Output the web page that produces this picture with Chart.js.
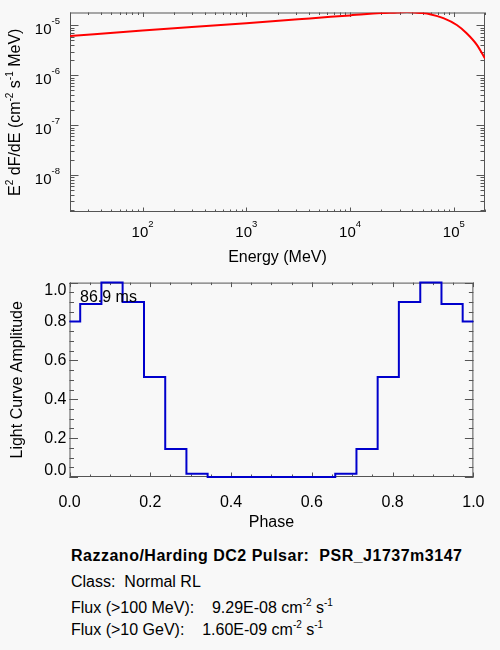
<!DOCTYPE html>
<html><head><meta charset="utf-8">
<script src="https://cdn.jsdelivr.net/npm/chart.js@4/dist/chart.umd.min.js"></script>
<style>
html,body{margin:0;padding:0;background:#f8f8f8;width:500px;height:650px;overflow:hidden;font-family:"Liberation Sans",Arial,sans-serif;}
#c1{position:absolute;left:0;top:0;}
#c2{position:absolute;left:0;top:270px;}
.info{position:absolute;left:71px;font-size:16px;line-height:20px;white-space:pre;color:#000;}
.info sup{font-size:10px;vertical-align:baseline;position:relative;top:-7px;}
</style></head><body>
<canvas id="c1" width="500" height="270"></canvas>
<canvas id="c2" width="500" height="270"></canvas>
<div class="info" style="top:546px;font-weight:bold;letter-spacing:0.5px">Razzano/Harding DC2 Pulsar:  PSR_J1737m3147</div>
<div class="info" style="top:572px">Class:  Normal RL</div>
<div class="info" style="top:598px">Flux (&gt;100 MeV):    9.29E-08 cm<sup>-2</sup> s<sup>-1</sup></div>
<div class="info" style="top:619.5px">Flux (&gt;10 GeV):    1.60E-09 cm<sup>-2</sup> s<sup>-1</sup></div>
<script>
// ---- Spectrum (top panel) ----
const energyMeV = [20, 100, 1000, 3162, 6500, 10000, 13600, 20000, 28600, 35500, 42300, 50000, 59000, 79400, 107000, 133000, 167000, 200000];
const e2dfde    = [6.15e-6, 7.89e-6, 1.11e-5, 1.33e-5, 1.49e-5, 1.59e-5, 1.68e-5, 1.77e-5, 1.82e-5, 1.87e-5, 1.82e-5, 1.77e-5, 1.68e-5, 1.40e-5, 1.02e-5, 6.98e-6, 4.08e-6, 2.17e-6];
const energyTicks = [100, 1000, 10000, 100000];
const energyTickLabels = ['10^2', '10^3', '10^4', '10^5'];
const fluxTicks = [1e-8, 1e-7, 1e-6, 1e-5];
const fluxTickLabels = ['10^-8', '10^-7', '10^-6', '10^-5'];
const energyRange = [20, 200000];
const fluxRange = [1.82e-9, 1.82e-5];
const spectrumXTitle = 'Energy (MeV)';
const spectrumYTitle = 'E^2 dF/dE (cm^-2 s^-1 MeV)';

// ---- Light curve (bottom panel) ----
const phase = [0.000, 0.053, 0.105, 0.158, 0.211, 0.263, 0.316, 0.368, 0.421, 0.474, 0.526, 0.579, 0.632, 0.684, 0.737, 0.789, 0.842, 0.895, 0.947, 1.000];
const amplitude = [0.80, 0.89, 1.00, 0.90, 0.515, 0.144, 0.017, 0, 0, 0, 0, 0, 0, 0.017, 0.144, 0.515, 0.90, 1.00, 0.89, 0.80];
const phaseTicks = [0, 0.2, 0.4, 0.6, 0.8, 1.0];
const phaseTickLabels = ['0.0', '0.2', '0.4', '0.6', '0.8', '1.0'];
const ampTicks = [0, 0.2, 0.4, 0.6, 0.8, 1.0];
const ampTickLabels = ['0.0', '0.2', '0.4', '0.6', '0.8', '1.0'];
const periodLabel = '86.9 ms';

const FONT = "'Liberation Sans', Arial, sans-serif";
Chart.defaults.font.family = FONT;
Chart.defaults.font.size = 16;
Chart.defaults.color = '#000';
const AXIS = '#555';

function logMinors(min, max) {
  const out = [];
  for (let d = Math.floor(Math.log10(min)); d <= Math.ceil(Math.log10(max)); d++) {
    for (let k = 2; k <= 9; k++) { const v = k * Math.pow(10, d); if (v >= min && v <= max) out.push(v); }
  }
  return out;
}
function linMinors(min, max, step) {
  const out = []; for (let v = min; v <= max + 1e-9; v += step) out.push(v); return out;
}

// text with ^superscripts
function parseRich(s) {
  const out = []; let last = 0; const re = /\^([-\d]+)/g; let m;
  while ((m = re.exec(s)) !== null) {
    if (m.index > last) out.push({t: s.slice(last, m.index)});
    out.push({t: m[1], sup: true}); last = m.index + m[0].length;
  }
  if (last < s.length) out.push({t: s.slice(last)});
  return out;
}
function drawRich(ctx, s, x, y, align, base, sup, raise) {
  const segs = parseRich(s);
  let w = 0;
  segs.forEach(g => { ctx.font = (g.sup ? sup : base) + 'px ' + FONT; g.w = ctx.measureText(g.t).width; w += g.w; });
  let cx = align === 'center' ? x - w / 2 : align === 'right' ? x - w : x;
  ctx.textAlign = 'left'; ctx.textBaseline = 'alphabetic';
  segs.forEach(g => { ctx.font = (g.sup ? sup : base) + 'px ' + FONT; ctx.fillText(g.t, cx, g.sup ? y - raise : y); cx += g.w; });
}

function boxPlugin(cfg) {
  return {
    id: 'box',
    beforeDatasetsDraw(chart) {
      const {ctx, chartArea: a} = chart;
      const xs = chart.scales.x, ys = chart.scales.y;
      ctx.save();
      ctx.strokeStyle = AXIS; ctx.lineWidth = 1;
      ctx.strokeRect(a.left + 0.5, a.top + 0.5, a.right - a.left - 1, a.bottom - a.top - 1);
      ctx.beginPath();
      const xt = (vals, len) => vals.forEach(v => { const p = Math.round(xs.getPixelForValue(v)) + 0.5;
        ctx.moveTo(p, a.bottom); ctx.lineTo(p, a.bottom - len); ctx.moveTo(p, a.top); ctx.lineTo(p, a.top + len); });
      const yt = (vals, len) => vals.forEach(v => { const p = Math.round(ys.getPixelForValue(v)) + 0.5;
        ctx.moveTo(a.left, p); ctx.lineTo(a.left + len, p); ctx.moveTo(a.right, p); ctx.lineTo(a.right - len, p); });
      xt(cfg.xMajor, 4.5); xt(cfg.xMinor, 2.5);
      yt(cfg.yMajor, 8.5); yt(cfg.yMinor, 4.5);
      ctx.stroke();
      ctx.restore();
      if (cfg.labels) { ctx.save(); ctx.fillStyle = '#000'; cfg.labels(chart); ctx.restore(); }
    },
    afterDatasetsDraw(chart) { if (cfg.after) { chart.ctx.save(); cfg.after(chart); chart.ctx.restore(); } }
  };
}

// Top chart
new Chart(document.getElementById('c1'), {
  type: 'line',
  data: { datasets: [{
    data: energyMeV.map((e, i) => ({x: e, y: e2dfde[i]})),
    borderColor: '#ff0000', borderWidth: 2, pointRadius: 0, fill: false,
    cubicInterpolationMode: 'monotone', clip: 0
  }]},
  options: {
    responsive: false, animation: false, devicePixelRatio: 1,
    plugins: { legend: {display: false}, tooltip: {enabled: false} },
    layout: { padding: { top: 12.5, right: 15, left: 0, bottom: 0 } },
    scales: {
      x: {
        type: 'logarithmic', position: 'bottom', min: energyRange[0], max: energyRange[1],
        afterBuildTicks: s => { s.ticks = energyTicks.map(v => ({value: v})); },
        ticks: { display: false },
        grid: { display: false, drawTicks: false }, border: { display: false },
        title: { display: true, text: spectrumXTitle, color: '#000', padding: { top: 0, bottom: 3 } },
        afterFit: s => { s.height = 58; }
      },
      y: {
        type: 'logarithmic', min: fluxRange[0], max: fluxRange[1],
        afterBuildTicks: s => { s.ticks = fluxTicks.map(v => ({value: v})); },
        ticks: { display: false },
        grid: { display: false, drawTicks: false }, border: { display: false },
        title: { display: false },
        afterFit: s => { s.width = 70; }
      }
    }
  },
  plugins: [boxPlugin({
    xMajor: energyTicks, xMinor: logMinors(energyRange[0], energyRange[1]),
    yMajor: fluxTicks, yMinor: logMinors(fluxRange[0], fluxRange[1]),
    labels(chart) {
      const {ctx, chartArea: a} = chart;
      const xs = chart.scales.x, ys = chart.scales.y;
      energyTicks.forEach((v, i) => drawRich(ctx, energyTickLabels[i], xs.getPixelForValue(v), a.bottom + 25.3, 'center', 15, 9.5, 10.6));
      fluxTicks.forEach((v, i) => drawRich(ctx, fluxTickLabels[i], a.left - 10, ys.getPixelForValue(v) + 8.5, 'right', 15, 9.5, 10));
      ctx.translate(20, (a.top + a.bottom) / 2);
      ctx.rotate(-Math.PI / 2);
      drawRich(ctx, spectrumYTitle, 0, 0, 'center', 16, 10, 7);
    }
  })]
});

// Bottom chart
new Chart(document.getElementById('c2'), {
  type: 'line',
  data: { datasets: [{
    data: phase.map((p, i) => ({x: p, y: amplitude[i]})),
    borderColor: '#0000cc', borderWidth: 2, pointRadius: 0, fill: false,
    stepped: 'middle', clip: 2
  }]},
  options: {
    responsive: false, animation: false, devicePixelRatio: 1,
    plugins: { legend: {display: false}, tooltip: {enabled: false} },
    layout: { padding: { top: 7.7, right: 15, left: 0, bottom: 0 } },
    scales: {
      x: {
        type: 'linear', min: 0, max: 1,
        afterBuildTicks: s => { s.ticks = phaseTicks.map(v => ({value: v})); },
        ticks: { autoSkip: false, maxRotation: 0, padding: 15.5, color: '#000',
          callback: v => phaseTickLabels[phaseTicks.findIndex(t => Math.abs(t - v) < 1e-6)] ?? '' },
        grid: { display: false, drawTicks: false }, border: { display: false },
        title: { display: true, text: 'Phase', color: '#000', padding: { top: 0, bottom: 7.5 } },
        afterFit: s => { s.height = 63; }
      },
      y: {
        type: 'linear', min: 0, max: 1,
        afterBuildTicks: s => { s.ticks = ampTicks.map(v => ({value: v})); },
        ticks: { autoSkip: false, padding: 3, color: '#000',
          callback: v => (v === 0 || v === 1) ? '' : (ampTickLabels[ampTicks.findIndex(t => Math.abs(t - v) < 1e-6)] ?? '') },
        grid: { display: false, drawTicks: false }, border: { display: false },
        title: { display: true, text: 'Light Curve Amplitude', color: '#000', padding: { top: 8, bottom: 0 } },
        afterFit: s => { s.width = 69.5; }
      }
    }
  },
  plugins: [boxPlugin({
    xMajor: phaseTicks, xMinor: linMinors(0, 1, 0.05),
    yMajor: ampTicks, yMinor: linMinors(0, 1, 0.05),
    after(chart) {
      const {ctx, chartArea: a} = chart;
      const xs = chart.scales.x, ys = chart.scales.y;
      ctx.fillStyle = '#000';
      ctx.font = '16px ' + FONT;
      ctx.textAlign = 'left'; ctx.textBaseline = 'alphabetic';
      ctx.fillText(periodLabel, xs.getPixelForValue(0.026), ys.getPixelForValue(0.9));
      // end labels of the amplitude axis, nudged inside the box as in the original
      ctx.textAlign = 'right'; ctx.textBaseline = 'middle';
      ctx.fillText(ampTickLabels[ampTickLabels.length - 1], a.left - 3, ys.getPixelForValue(1) + 8);
      ctx.fillText(ampTickLabels[0], a.left - 3, ys.getPixelForValue(0) - 6);
    }
  })]
});
</script>
</body></html>
